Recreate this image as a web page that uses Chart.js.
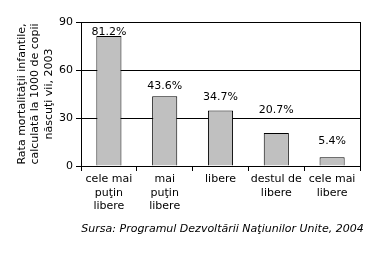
<!DOCTYPE html>
<html lang="ro">
<head>
<meta charset="UTF-8">
<title>Rata mortalităţii infantile</title>
<style>
    html, body { margin: 0; padding: 0; background: #ffffff; }
    #wrap { width: 389px; height: 253px; position: relative; }
</style>
</head>
<body>
<div id="wrap"><canvas id="chart" width="389" height="253"></canvas></div>
<script src="https://cdn.jsdelivr.net/npm/chart.js"></script>
<script>
// data
const categories = [
    ['cele mai', 'puţin', 'libere'],
    ['mai', 'puţin', 'libere'],
    ['libere'],
    ['destul de', 'libere'],
    ['cele mai', 'libere']
];
const mortality = [81.2, 43.6, 34.7, 20.7, 5.4];
const yTicks = [0, 30, 60, 90];
const yTitle = ['Rata mortalităţii infantile,', 'calculată la 1000 de copii', 'născuţi vii, 2003'];
const sourceNote = 'Sursa: Programul Dezvoltării Naţiunilor Unite, 2004';

const FONT = 'Verdana, "DejaVu Sans", sans-serif';

// percent labels above bars (the original ones sit at uneven heights)
const labelLift = [0, 7, 10, 19, 13];
const barLabels = {
    id: 'barLabels',
    afterDatasetsDraw(chart) {
        const ctx = chart.ctx;
        const meta = chart.getDatasetMeta(0);
        ctx.save();
        ctx.font = '11px ' + FONT;
        ctx.fillStyle = '#000';
        ctx.textAlign = 'center';
        ctx.textBaseline = 'bottom';
        meta.data.forEach((bar, i) => {
            ctx.fillText(mortality[i].toFixed(1) + '%', bar.x, bar.y - labelLift[i] + 2);
        });
        ctx.restore();
    }
};

// box round the plot area + source line under the chart
const frame = {
    id: 'frame',
    afterDraw(chart) {
        const a = chart.chartArea;
        const ctx = chart.ctx;
        ctx.save();
        ctx.strokeStyle = '#000';
        ctx.lineWidth = 1;
        ctx.strokeRect(Math.round(a.left) + 0.5, Math.round(a.top) + 0.5,
            Math.round(a.right - a.left), Math.round(a.bottom - a.top));
        ctx.font = 'italic 11px ' + FONT;
        ctx.fillStyle = '#000';
        ctx.textAlign = 'center';
        ctx.textBaseline = 'middle';
        ctx.fillText(sourceNote, (a.left + a.right) / 2 + 2, 229);
        ctx.restore();
    }
};

new Chart(document.getElementById('chart'), {
    type: 'bar',
    data: {
        labels: categories,
        datasets: [{
            data: mortality,
            backgroundColor: '#c0c0c0',
            borderColor: '#000',
            borderWidth: 1,
            barPercentage: 0.45,
            categoryPercentage: 1
        }]
    },
    options: {
        responsive: false,
        animation: false,
        events: [],
        layout: { padding: { left: 15, right: 29, top: 22, bottom: 35 } },
        plugins: { legend: { display: false }, tooltip: { enabled: false } },
        scales: {
            x: {
                afterFit(s) { s.height = 52; },
                grid: { display: true, drawOnChartArea: false, drawTicks: true, tickLength: 5, color: '#000', offset: true },
                border: { color: '#000' },
                ticks: { color: '#000', font: { family: FONT, size: 11 }, padding: 2, maxRotation: 0, autoSkip: false }
            },
            y: {
                min: 0,
                max: 90,
                afterFit(s) { s.width = 66; },
                afterBuildTicks(s) { s.ticks = yTicks.map(v => ({ value: v })); },
                grid: { color: '#000', tickLength: 5 },
                border: { color: '#000' },
                ticks: { color: '#000', font: { family: FONT, size: 11 }, padding: 3 },
                title: {
                    display: true,
                    text: yTitle,
                    color: '#000',
                    font: { family: FONT, size: 11, lineHeight: 1.25 },
                    padding: { top: 0, bottom: 2 }
                }
            }
        }
    },
    plugins: [barLabels, frame]
});
</script>
</body>
</html>
